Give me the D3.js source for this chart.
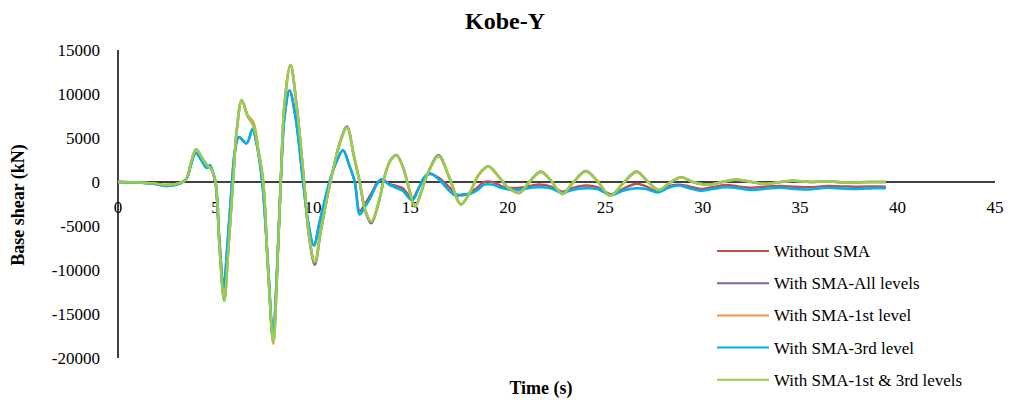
<!DOCTYPE html>
<html>
<head>
<meta charset="utf-8">
<script src="https://cdnjs.cloudflare.com/ajax/libs/d3/7.8.5/d3.min.js"></script>
<style>
  body { margin: 0; background: #fff; }
  text { font-family: "Liberation Serif", "Times New Roman", serif; fill: #000; }
</style>
</head>
<body>
<div id="chart"></div>
<script>
// time stamps (s) shared by the three large-response series
const timeA = [0, 1.0, 1.8, 2.5, 3.2, 3.5, 3.75, 4.0, 4.3, 4.6,
  4.75, 5.0, 5.2, 5.45, 5.65, 5.9, 6.1, 6.35, 6.65, 6.95,
  7.2, 7.45, 7.7, 7.97, 8.15, 8.35, 8.55, 8.85, 9.15, 9.55,
  9.8, 10.1, 10.4, 10.9, 11.4, 11.75, 12.1, 12.4, 12.7, 13.0,
  13.35, 13.7, 14.0, 14.3, 14.65, 14.9, 15.25, 15.55, 15.9, 16.45,
  17.0, 17.6, 18.1, 18.5, 19.0, 19.5, 20.0, 20.6, 21.1, 21.7,
  22.2, 22.8, 23.3, 24.0, 24.6, 25.25, 25.9, 26.6, 27.2, 27.75,
  28.3, 28.9, 29.5, 30.3, 31.0, 31.7, 32.5, 33.2, 34.0, 34.6,
  35.5, 36.3, 37.5, 38.5, 39.4];

const allLevels = [0, -50, -150, -350, -100, 300, 2200, 3700, 2800, 1800,
  1600, 0, -7000, -13500, -8000, 0, 6000, 9300, 7500, 6400,
  3500, 0, -10000, -18200, -11000, 0, 9000, 13300, 9000, 0,
  -6200, -9400, -5700, 0, 4600, 6300, 3000, 0, -3400, -4700,
  -2600, 800, 2550, 3050, 1500, -500, -2800, -1200, 1000, 3050,
  500, -2550, -1000, 800, 1800, 700, -600, -1250, 0, 1200,
  200, -1350, -200, 1250, 100, -1550, -200, 1200, 0, -900,
  -100, 550, 0, -300, 0, 250, 0, -200, 0, 150,
  0, 50, -50, 0, 0];

const firstLevel = [0, -50, -150, -350, -100, 300, 2200, 3700, 2800, 1800,
  1600, 0, -7000, -13500, -8000, 0, 6000, 9300, 7600, 6800,
  3800, 0, -10000, -18400, -11000, 0, 9000, 13300, 9000, 0,
  -6000, -9100, -5500, 0, 4500, 6200, 3000, 0, -3300, -4500,
  -2500, 800, 2500, 3000, 1500, -500, -2800, -1200, 1000, 2900,
  500, -2500, -1000, 800, 1750, 700, -600, -1200, 0, 1150,
  200, -1350, -200, 1200, 100, -1550, -200, 1150, 0, -900,
  -100, 550, 0, -300, 0, 250, 0, -200, 0, 150,
  0, 50, -50, 0, 0];

const firstThird = [0, -50, -150, -350, -100, 300, 2200, 3700, 2800, 1800,
  1600, 0, -7000, -13500, -8000, 0, 6000, 9300, 7500, 6400,
  3500, 0, -10000, -18200, -11000, 0, 9000, 13300, 9000, 0,
  -6000, -9100, -5500, 0, 4500, 6200, 3000, 0, -3300, -4500,
  -2500, 800, 2500, 3000, 1500, -500, -2800, -1200, 1000, 2950,
  500, -2500, -1000, 800, 1750, 700, -600, -1200, 0, 1150,
  200, -1350, -200, 1200, 100, -1550, -200, 1150, 0, -900,
  -100, 550, 0, -300, 0, 250, 0, -200, 0, 150,
  0, 50, -50, 0, 0];

// time stamps (s) shared by the two smaller-response series
const timeB = [0, 1.0, 1.8, 2.5, 3.2, 3.5, 3.75, 3.98, 4.3, 4.55,
  4.72, 4.85, 5.0, 5.2, 5.42, 5.62, 5.85, 6.0, 6.2, 6.6,
  6.9, 7.1, 7.4, 7.7, 7.95, 8.15, 8.35, 8.55, 8.8, 9.1,
  9.5, 9.75, 10.05, 10.35, 10.85, 11.25, 11.55, 11.85, 12.15, 12.4,
  12.65, 13.0, 13.3, 13.55, 13.9, 14.2, 14.6, 15.1, 15.4, 15.7,
  16.0, 16.5, 17.0, 17.35, 17.7, 18.0, 18.4, 18.8, 19.2, 19.7,
  20.3, 20.8, 21.5, 22.2, 22.8, 23.3, 24.0, 24.6, 25.3, 25.9,
  26.6, 27.1, 27.7, 28.2, 28.75, 29.3, 29.9, 30.5, 31.2, 31.8,
  32.5, 33.3, 34.0, 34.8, 35.5, 36.4, 37.2, 38.0, 38.8, 39.4];

const thirdLevel = [0, -50, -200, -450, -150, 300, 2000, 3300, 2400, 1600,
  1900, 1200, 0, -6500, -12000, -7000, 0, 3500, 5100, 4400,
  6000, 4500, 0, -9500, -17600, -10500, 0, 7500, 10400, 7500,
  0, -4500, -7200, -4500, 0, 2500, 3600, 2000, 0, -3700,
  -2900, -1600, -200, 350, -300, -600, -1000, -2100, -900, 500,
  1000, 200, -1000, -1600, -1400, -1400, -1000, -300, -300, -700,
  -900, -800, -600, -700, -1250, -900, -700, -800, -1500, -1000,
  -700, -800, -1200, -700, -400, -700, -1000, -800, -600, -700,
  -900, -750, -650, -800, -850, -650, -750, -800, -700, -720];

const withoutSMA = [0, -50, -200, -450, -150, 300, 2000, 3300, 2400, 1600,
  1900, 1200, 0, -6500, -12000, -7000, 0, 3500, 5100, 4400,
  6000, 4500, 0, -9500, -17600, -10500, 0, 7500, 10400, 7500,
  0, -4500, -7200, -4500, 0, 2500, 3600, 2000, 0, -3300,
  -2600, -1300, -100, 300, -200, -400, -700, -1900, -800, 400,
  900, 400, -600, -1400, -1500, -1300, -700, 0, 0, -500,
  -700, -600, -300, -500, -1100, -700, -400, -600, -1400, -800,
  -200, -500, -1100, -500, -300, -500, -800, -600, -350, -500,
  -650, -500, -450, -550, -600, -450, -500, -550, -500, -530];

const seriesNames = ["Without SMA", "With SMA-All levels", "With SMA-1st level",
  "With SMA-3rd level", "With SMA-1st & 3rd levels"];
const seriesColors = ["#C0504D", "#8064A2", "#F79646", "#00B0F0", "#92D050"];

const xTicks = [0, 5, 10, 15, 20, 25, 30, 35, 40, 45];
const yTicks = [15000, 10000, 5000, 0, -5000, -10000, -15000, -20000];

const series = [
  { t: timeB, v: withoutSMA },
  { t: timeA, v: allLevels },
  { t: timeA, v: firstLevel },
  { t: timeB, v: thirdLevel },
  { t: timeA, v: firstThird }
];

const W = 1011, H = 400;
const svg = d3.select("#chart").append("svg")
  .attr("width", W).attr("height", H);

const x = d3.scaleLinear().domain([0, 45]).range([118, 995]);
const y = d3.scaleLinear().domain([-20000, 15000]).range([358, 50]);

// title
svg.append("text")
  .attr("x", 505).attr("y", 29)
  .attr("text-anchor", "middle")
  .style("font-size", "24px").style("font-weight", "bold")
  .text("Kobe-Y");

// y axis labels
svg.append("g").selectAll("text")
  .data(yTicks).enter().append("text")
  .attr("x", 100).attr("y", d => y(d) + 6)
  .attr("text-anchor", "end")
  .style("font-size", "17px")
  .text(d => d);

// x axis labels (sit just below the zero line)
svg.append("g").selectAll("text")
  .data(xTicks).enter().append("text")
  .attr("x", d => x(d)).attr("y", 213)
  .attr("text-anchor", "middle")
  .style("font-size", "17px")
  .text(d => d);

// axis lines
svg.append("line")
  .attr("x1", x(0)).attr("x2", x(0))
  .attr("y1", y(15000)).attr("y2", y(-20000))
  .attr("stroke", "#000").attr("stroke-width", 1.5);
svg.append("line")
  .attr("x1", x(0)).attr("x2", x(45))
  .attr("y1", y(0)).attr("y2", y(0))
  .attr("stroke", "#000").attr("stroke-width", 1.5);

// data lines
const line = d3.line().curve(d3.curveCatmullRom.alpha(0.5));
series.forEach((s, i) => {
  svg.append("path")
    .attr("d", line(s.t.map((t, j) => [x(t), y(s.v[j])])))
    .attr("fill", "none")
    .attr("stroke", seriesColors[i])
    .attr("stroke-width", 2.5)
    .attr("stroke-linejoin", "round");
});

// axis titles
svg.append("text")
  .attr("transform", "translate(24,205) rotate(-90)")
  .attr("text-anchor", "middle")
  .style("font-size", "18px").style("font-weight", "bold")
  .text("Base shear (kN)");

svg.append("text")
  .attr("x", 541).attr("y", 394)
  .attr("text-anchor", "middle")
  .style("font-size", "18px").style("font-weight", "bold")
  .text("Time (s)");

// legend
const legend = svg.append("g").attr("transform", "translate(717,251)");
const items = legend.selectAll(".legend-item")
  .data(seriesNames).enter().append("g")
  .attr("class", "legend-item")
  .attr("transform", (d, i) => `translate(0, ${i * 32.2})`);

items.append("line")
  .attr("x1", 0).attr("x2", 52)
  .attr("stroke", (d, i) => seriesColors[i])
  .attr("stroke-width", 2);

items.append("text")
  .attr("x", 57).attr("y", 6)
  .style("font-size", "17px")
  .text(d => d);
</script>
</body>
</html>
